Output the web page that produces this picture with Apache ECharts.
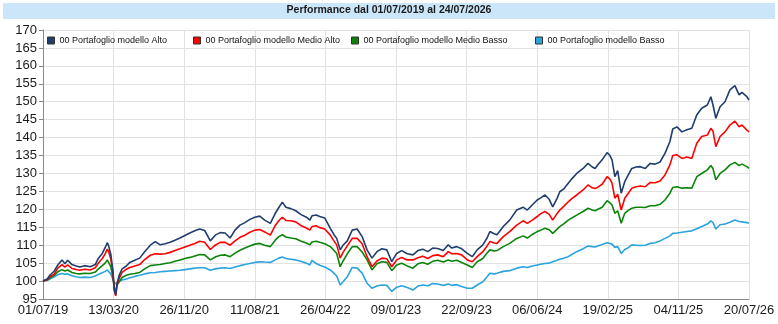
<!DOCTYPE html>
<html>
<head>
<meta charset="utf-8">
<script src="https://cdn.jsdelivr.net/npm/echarts@6/dist/echarts.min.js"></script>
<style>
    html, body { margin: 0; padding: 0; background: #fff; }
    #chart { width: 778px; height: 324px; }
</style>
</head>
<body>
<div id="chart"></div>
<script>
    var titleText = 'Performance dal 01/07/2019 al 24/07/2026';
    var seriesNames = ['00 Portafoglio modello Alto', '00 Portafoglio modello Medio Alto',
        '00 Portafoglio modello Medio Basso', '00 Portafoglio modello Basso'];
    var tickLabels = ['01/07/19', '13/03/20', '26/11/20', '11/08/21', '26/04/22', '09/01/23',
        '22/09/23', '06/06/24', '19/02/25', '04/11/25', '20/07/26'];

    // position along the time axis, in tick steps (0 = 01/07/19, 10 = 20/07/26)
    var xs = [
        0, 0.06, 0.10, 0.16, 0.21, 0.27, 0.31, 0.35, 0.41, 0.47,
        0.52, 0.59, 0.67, 0.74, 0.78, 0.84, 0.88, 0.91, 0.93, 0.96,
        0.99, 1.01, 1.03, 1.05, 1.08, 1.12, 1.18, 1.23, 1.30, 1.37,
        1.44, 1.52, 1.59, 1.66, 1.73, 1.80, 1.87, 1.94, 2.01, 2.08,
        2.15, 2.22, 2.29, 2.37, 2.44, 2.51, 2.58, 2.65, 2.72, 2.79,
        2.86, 2.93, 3.00, 3.07, 3.14, 3.22, 3.29, 3.34, 3.39, 3.44,
        3.51, 3.58, 3.65, 3.73, 3.78, 3.81, 3.87, 3.92, 3.99, 4.07,
        4.12, 4.16, 4.21, 4.25, 4.31, 4.38, 4.45, 4.52, 4.59, 4.66,
        4.73, 4.80, 4.87, 4.94, 5.01, 5.08, 5.16, 5.24, 5.31, 5.38,
        5.45, 5.52, 5.59, 5.67, 5.74, 5.79, 5.86, 5.93, 6.01, 6.08,
        6.15, 6.23, 6.29, 6.33, 6.39, 6.43, 6.52, 6.61, 6.71, 6.80,
        6.86, 6.93, 7.00, 7.05, 7.11, 7.17, 7.22, 7.28, 7.32, 7.38,
        7.44, 7.49, 7.56, 7.65, 7.72, 7.78, 7.82, 7.86, 7.92, 7.99,
        8.03, 8.06, 8.10, 8.14, 8.19, 8.24, 8.29, 8.34, 8.40, 8.46,
        8.53, 8.60, 8.67, 8.74, 8.81, 8.88, 8.92, 8.98, 9.05, 9.12,
        9.19, 9.26, 9.33, 9.41, 9.46, 9.49, 9.53, 9.59, 9.66, 9.73,
        9.80, 9.86, 9.90, 9.97, 10.00
    ];

    var alto = [
        100.0, 100.6, 101.7, 102.8, 104.5, 105.9, 104.8, 105.8, 104.6, 104.2,
        103.9, 104.3, 104.0, 104.6, 106.2, 107.7, 109.3, 110.7, 109.8, 107.5,
        102.8, 97.5, 96.1, 99.4, 101.7, 103.4, 104.2, 105.2, 105.8, 106.4,
        108.2, 110.0, 111.0, 110.1, 110.4, 110.8, 111.4, 112.0, 112.7, 113.4,
        114.0, 114.5, 114.1, 111.2, 112.8, 113.5, 113.4, 112.0, 114.2, 115.6,
        116.3, 117.2, 117.8, 118.1, 117.0, 116.1, 118.9, 120.5, 122.0, 120.6,
        120.2, 119.6, 118.6, 117.8, 117.0, 118.2, 118.4, 118.0, 117.6, 114.7,
        113.0, 111.9, 108.7, 110.0, 111.2, 114.2, 114.5, 112.4, 108.7, 106.4,
        108.2, 109.0, 108.7, 105.4, 107.7, 108.5, 107.6, 107.3, 108.5, 108.9,
        108.2, 109.2, 109.1, 108.5, 110.1, 109.2, 109.6, 109.0, 107.7, 106.8,
        108.7, 110.1, 112.0, 113.8, 113.2, 112.9, 115.2, 117.0, 119.8, 120.6,
        119.8, 121.2, 122.6, 123.2, 124.0, 122.8, 120.7, 123.0, 124.9, 125.8,
        127.3, 128.5, 130.0, 131.4, 132.8, 131.8, 131.4, 132.4, 133.8, 135.8,
        135.0, 133.8, 129.1, 130.8, 124.5, 127.7, 129.6, 131.4, 131.8, 131.9,
        131.4, 132.8, 132.6, 133.2, 135.6, 138.9, 142.4, 143.0, 141.6, 142.2,
        142.6, 146.3, 148.2, 149.1, 151.4, 149.1, 145.4, 148.6, 150.0, 153.3,
        154.5, 151.9, 152.6, 151.4, 150.5
    ];

    var medioAlto = [
        100.0, 100.4, 101.2, 102.0, 103.6, 104.6, 103.9, 104.5, 103.5, 103.2,
        103.0, 103.3, 103.1, 103.7, 104.9, 106.3, 107.6, 108.9, 108.2, 106.2,
        102.5, 97.5, 95.9, 99.0, 100.8, 102.4, 103.3, 103.8, 104.2, 104.6,
        106.0, 107.2, 107.6, 107.5, 107.6, 108.0, 108.5, 109.0, 109.5, 110.0,
        110.5, 111.1, 110.8, 108.8, 110.0, 110.8, 110.8, 110.0, 111.2, 112.2,
        112.8, 113.6, 114.2, 114.4, 113.7, 112.8, 115.5, 116.8, 117.8, 116.9,
        116.8, 116.5, 115.5, 114.8, 114.2, 115.2, 115.4, 114.9, 114.5, 112.8,
        111.2, 110.1, 106.4, 108.0, 109.8, 111.9, 111.9, 110.4, 106.8, 104.0,
        105.6, 106.4, 106.2, 104.0, 105.9, 106.6, 105.9, 105.9, 106.5, 106.9,
        106.3, 107.1, 107.3, 106.8, 108.2, 107.6, 107.7, 107.3, 105.9, 105.4,
        106.8, 108.2, 109.8, 111.0, 110.6, 110.5, 112.4, 113.8, 115.6, 116.8,
        116.1, 117.0, 118.0, 118.8, 119.4, 118.6, 117.0, 118.8, 119.8, 120.9,
        122.1, 123.0, 124.0, 125.4, 126.8, 126.0, 125.8, 126.2, 127.0, 129.1,
        128.4, 127.3, 123.1, 124.2, 119.8, 123.1, 124.5, 125.9, 126.3, 126.5,
        126.3, 127.5, 127.4, 127.9, 129.6, 132.4, 135.0, 135.2, 134.2, 134.6,
        134.2, 138.4, 140.3, 140.7, 142.6, 141.8, 137.5, 140.3, 141.6, 143.5,
        144.6, 143.0, 143.5, 142.1, 141.6
    ];

    var medioBasso = [
        100.0, 100.3, 100.9, 101.6, 102.6, 103.2, 102.8, 103.1, 102.4, 102.1,
        102.0, 102.2, 102.1, 102.5, 103.3, 104.3, 105.0, 105.9, 105.4, 104.0,
        101.2, 97.8, 97.2, 99.0, 99.8, 101.0, 101.6, 101.9, 102.1, 102.4,
        103.4, 104.3, 104.5, 104.6, 104.9, 105.1, 105.5, 105.9, 106.3, 106.6,
        107.0, 107.4, 107.3, 105.9, 106.7, 107.2, 107.3, 106.8, 107.8, 108.6,
        109.2, 109.8, 110.3, 110.5, 110.0, 109.6, 111.4, 112.4, 112.9, 112.3,
        112.0, 111.8, 111.2, 110.6, 110.1, 110.9, 111.1, 110.8, 110.4, 109.6,
        108.6, 107.7, 104.0, 105.6, 107.6, 109.6, 109.6, 108.1, 105.9, 103.1,
        104.8, 105.4, 105.2, 102.9, 104.5, 105.0, 104.2, 103.6, 104.8, 105.2,
        104.7, 105.5, 105.8, 105.3, 105.9, 105.5, 105.8, 105.2, 104.5, 103.8,
        105.4, 106.3, 107.8, 108.7, 108.4, 108.5, 109.6, 110.5, 111.9, 112.6,
        112.0, 113.0, 113.8, 114.2, 114.7, 114.3, 113.3, 114.4, 115.2, 116.0,
        117.0, 117.6, 118.4, 119.4, 120.3, 119.8, 119.6, 120.0, 120.6, 122.4,
        121.8, 121.2, 118.9, 119.6, 116.1, 118.9, 119.7, 120.3, 120.6, 120.6,
        120.5, 121.0, 121.0, 121.4, 122.6, 124.5, 126.1, 126.3, 125.9, 126.0,
        125.9, 129.1, 130.0, 131.0, 132.2, 131.4, 128.2, 130.0, 131.0, 132.4,
        133.1, 132.2, 132.6, 131.9, 131.4
    ];

    var basso = [
        100.0, 100.2, 100.6, 101.2, 101.8, 102.1, 101.9, 102.0, 101.5, 101.2,
        101.0, 101.1, 101.0, 101.4, 101.8, 102.3, 102.7, 103.1, 102.8, 102.0,
        100.5, 99.2, 98.9, 99.6, 99.9, 100.3, 100.6, 100.9, 101.3, 101.6,
        102.0, 102.3, 102.4, 102.6, 102.7, 102.8, 102.9, 103.0, 103.2, 103.4,
        103.6, 103.7, 103.7, 103.0, 103.4, 103.6, 103.7, 103.5, 103.9, 104.3,
        104.6, 104.9, 105.2, 105.4, 105.3, 105.2, 105.9, 106.4, 106.7, 106.3,
        106.1, 105.9, 105.5, 105.0, 104.5, 105.8, 104.9, 104.4, 103.9, 103.1,
        102.2, 101.4, 98.9, 99.8, 101.2, 103.8, 103.6, 102.2, 99.4, 98.0,
        98.6, 98.9, 98.8, 97.1, 98.3, 98.7, 98.2, 97.5, 98.6, 98.9,
        98.7, 99.3, 99.2, 98.8, 99.2, 98.8, 99.0, 98.5, 98.0, 98.0,
        98.9, 99.8, 101.2, 102.2, 102.0, 102.2, 102.7, 102.9, 103.6, 104.0,
        103.8, 104.2, 104.5, 104.7, 104.9, 105.0, 105.4, 105.8, 106.1, 106.4,
        106.8, 107.4, 108.2, 109.0, 109.8, 109.6, 109.5, 109.8, 110.2, 110.7,
        110.5, 110.3, 109.4, 109.6, 107.7, 108.8, 109.3, 110.1, 110.0, 109.9,
        110.0, 110.5, 110.7, 111.2, 111.9, 112.6, 113.3, 113.4, 113.6, 113.8,
        114.0, 114.6, 115.2, 115.9, 116.8, 116.3, 114.5, 115.7, 115.9, 116.4,
        117.0, 116.6, 116.5, 116.3, 116.1
    ];

    var seriesValues = [alto, medioAlto, medioBasso, basso];
    var seriesColors = ['#1f3d6d', '#ff0000', '#0a850a', '#2ba3df'];
    var legendLeft = [47, 193, 351, 535];
    var fontFamily = '"Liberation Sans", Arial, sans-serif';

    function pairs(values) {
        var out = [];
        for (var i = 0; i < values.length; i++) {
            out.push([xs[i], values[i]]);
        }
        return out;
    }

    var chart = echarts.init(document.getElementById('chart'));

    var option = {
        animation: false,
        backgroundColor: '#ffffff',
        graphic: [{
            type: 'rect',
            shape: { x: 3, y: 3, width: 772, height: 16 },
            style: { fill: '#cce6f9' },
            z: -1
        }],
        title: {
            text: titleText,
            left: 'center',
            top: 5,
            padding: 0,
            textStyle: { fontSize: 10.5, fontWeight: 'bold', color: '#1a1a1a', fontFamily: fontFamily }
        },
        legend: seriesNames.map(function (name, i) {
            return {
                data: [name],
                left: legendLeft[i],
                top: 36,
                padding: 0,
                icon: 'rect',
                itemWidth: 7,
                itemHeight: 7,
                itemStyle: { borderColor: '#333', borderWidth: 1 },
                textStyle: { fontSize: 9, color: '#111', fontFamily: fontFamily }
            };
        }),
        grid: { left: 43, right: 29, top: 30, bottom: 25, containLabel: false },
        xAxis: {
            type: 'value',
            min: 0,
            max: 10,
            interval: 1,
            axisLine: { lineStyle: { color: '#888' } },
            axisTick: { show: false },
            axisLabel: {
                margin: 5,
                fontSize: 13,
                color: '#1a1a1a',
                fontFamily: fontFamily,
                showMinLabel: true,
                showMaxLabel: true,
                formatter: function (v) { return tickLabels[Math.round(v)]; }
            },
            splitLine: { show: true, lineStyle: { color: '#e2e2e2' } }
        },
        yAxis: {
            type: 'value',
            min: 95,
            max: 170,
            interval: 5,
            axisLine: { show: true, lineStyle: { color: '#888' } },
            axisTick: { show: true, length: 4, lineStyle: { color: '#888' } },
            axisLabel: { margin: 6, fontSize: 13, color: '#1a1a1a', fontFamily: fontFamily },
            splitLine: { show: true, lineStyle: { color: '#e2e2e2' } }
        },
        series: seriesNames.map(function (name, i) {
            return {
                name: name,
                type: 'line',
                data: pairs(seriesValues[i]),
                showSymbol: false,
                symbol: 'none',
                color: seriesColors[i],
                lineStyle: { width: 1.6, color: seriesColors[i] },
                z: 10 - i
            };
        })
    };

    chart.setOption(option);
</script>
</body>
</html>
